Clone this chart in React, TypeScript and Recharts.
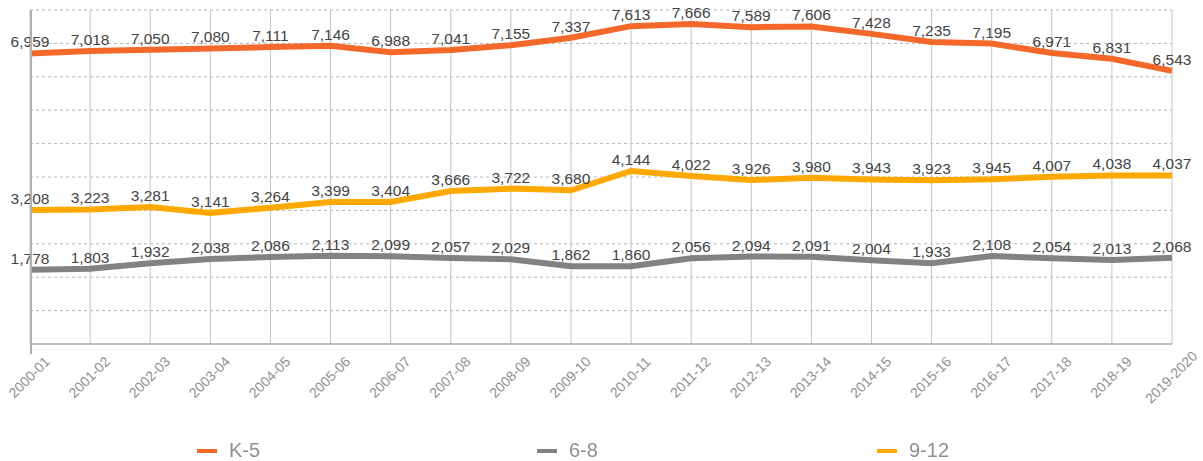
import { LineChart, Line, XAxis, YAxis, CartesianGrid, LabelList } from 'recharts';

const years = [
  '2000-01', '2001-02', '2002-03', '2003-04', '2004-05', '2005-06', '2006-07', '2007-08', '2008-09', '2009-10',
  '2010-11', '2011-12', '2012-13', '2013-14', '2014-15', '2015-16', '2016-17', '2017-18', '2018-19', '2019-2020',
];

const k5 = [6959, 7018, 7050, 7080, 7111, 7146, 6988, 7041, 7155, 7337, 7613, 7666, 7589, 7606, 7428, 7235, 7195, 6971, 6831, 6543];
const g68 = [1778, 1803, 1932, 2038, 2086, 2113, 2099, 2057, 2029, 1862, 1860, 2056, 2094, 2091, 2004, 1933, 2108, 2054, 2013, 2068];
const g912 = [3208, 3223, 3281, 3141, 3264, 3399, 3404, 3666, 3722, 3680, 4144, 4022, 3926, 3980, 3943, 3923, 3945, 4007, 4038, 4037];

const yTicks = [0, 800, 1600, 2400, 3200, 4000, 4800, 5600, 6400, 7200, 8000];

const series = [
  { key: 'k5', name: 'K-5', color: '#F4692A' },
  { key: 'g68', name: '6-8', color: '#808382' },
  { key: 'g912', name: '9-12', color: '#FFA800' },
];

const data = years.map((year, i) => ({ year, k5: k5[i], g68: g68[i], g912: g912[i] }));

const font = '"Liberation Sans", Arial, sans-serif';

function YearTick({ x, y, payload }: any) {
  const cy = y + 26;
  return (
    <text
      x={x}
      y={cy}
      textAnchor="middle"
      dominantBaseline="middle"
      transform={`rotate(-45, ${x}, ${cy})`}
      fill="#8f8f8f"
      fontSize={14}
      fontFamily={font}
    >
      {payload.value}
    </text>
  );
}

const fmt = (v: any) => Number(v).toLocaleString('en-US');

export default function App() {
  return (
    <div style={{ position: 'fixed', left: 0, top: 0, width: 1203, height: 461, background: '#fff', fontFamily: font }}>
      <LineChart width={1203} height={410} data={data} margin={{ top: 10, right: 31, left: 30, bottom: 6 }}>
        <CartesianGrid horizontal={true} vertical={false} stroke="#b4b4b4" strokeDasharray="3 3" />
        <CartesianGrid horizontal={false} vertical={true} stroke="#c4c4c4" />
        <XAxis
          dataKey="year"
          interval={0}
          height={60}
          tick={<YearTick />}
          tickLine={false}
          axisLine={{ stroke: '#b0b0b0', strokeWidth: 1.5 }}
        />
        <YAxis hide domain={[0, 8000]} ticks={yTicks} />
        {series.map((s) => (
          <Line
            key={s.key}
            dataKey={s.key}
            name={s.name}
            stroke={s.color}
            strokeWidth={6}
            dot={false}
            activeDot={false}
            type="linear"
            isAnimationActive={false}
          >
            <LabelList
              dataKey={s.key}
              position="top"
              offset={6}
              formatter={fmt}
              fill="#444"
              fontSize={15.5}
              fontFamily={font}
            />
          </Line>
        ))}
      </LineChart>
      <div style={{ position: 'absolute', top: 0, left: 30, width: 1.5, height: 344, background: '#b0b0b0', marginTop: 10 }} />
      <div style={{ position: 'absolute', top: 439, left: 197, display: 'flex' }}>
        {series.map((s) => (
          <div key={s.key} style={{ width: 340, display: 'flex', alignItems: 'center' }}>
            <span style={{ display: 'inline-block', width: 20, height: 4, background: s.color, marginRight: 12 }} />
            <span style={{ fontSize: 20, color: '#8f8f8f', fontFamily: font }}>{s.name}</span>
          </div>
        ))}
      </div>
    </div>
  );
}
